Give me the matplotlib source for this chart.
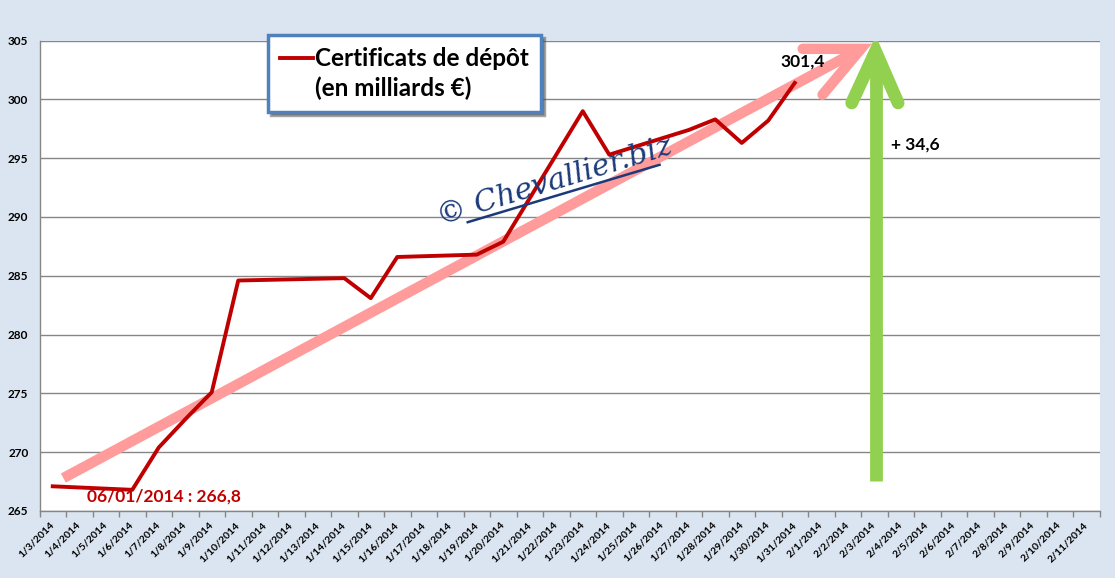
import matplotlib.pyplot as plt
from matplotlib.lines import Line2D
import numpy as np

# Catégories de l'axe (une par jour)
categories = [f"1/{d}/2014" for d in range(3, 32)] + [f"2/{d}/2014" for d in range(1, 12)]

# Série : certificats de dépôt (en milliards €)
dates = ["1/3/2014", "1/6/2014", "1/7/2014", "1/8/2014", "1/9/2014", "1/10/2014",
         "1/14/2014", "1/15/2014", "1/16/2014", "1/19/2014", "1/20/2014", "1/23/2014",
         "1/24/2014", "1/27/2014", "1/28/2014", "1/29/2014", "1/30/2014", "1/31/2014"]
valeurs = [267.1, 266.8, 270.4, 272.8, 275.1, 284.6,
           284.8, 283.1, 286.6, 286.8, 287.9, 299.0,
           295.3, 297.4, 298.3, 296.3, 298.2, 301.4]

y_ticks = [265, 270, 275, 280, 285, 290, 295, 300, 305]

plt.rcParams['font.family'] = ['Lato', 'DejaVu Sans']

fig = plt.figure(figsize=(11.15, 5.78), dpi=100, facecolor='#DBE5F1')
ax = fig.add_axes([39.5 / 1115, 67 / 578, 1060 / 1115, 470.4 / 578])
ax.set_facecolor('white')

x = [categories.index(d) for d in dates]

# Flèche de tendance (rose)
tx0, ty0 = 0.4, 267.8
tx1, ty1 = 30.5, 304.3
ax.plot([tx0, tx1], [ty0, ty1], color='#FF9B9B', lw=7.5, solid_capstyle='butt', zorder=2)
ax.plot([28.3, tx1, 29.05], [304.3, ty1, 300.4], color='#FF9B9B', lw=7.5,
        solid_capstyle='round', solid_joinstyle='miter', zorder=2)

# Série
ligne, = ax.plot(x, valeurs, color='#C00000', lw=2.8, zorder=4)

# Flèche verte
gx = 31.05
ax.plot([gx, gx], [267.55, 303.0], color='#92D050', lw=9.2, solid_capstyle='butt', zorder=3)
ax.plot([30.15, gx, 31.9], [299.7, 304.1, 299.7], color='#92D050', lw=9.2,
        solid_capstyle='round', solid_joinstyle='miter', zorder=3)

# Annotations
ax.text(x[1] - 1.7, 266.25, '06/01/2014 : 266,8', color='#C00000', fontsize=12.5,
        fontweight='bold', va='center', ha='left', zorder=5)
ax.text(x[-1] + 0.3, 303.2, '301,4', color='black', fontsize=12.5, fontweight='bold',
        va='center', ha='center', zorder=5)
ax.text(gx + 0.6, 296.2, '+ 34,6', color='black', fontsize=12.5, fontweight='bold',
        va='center', ha='left', zorder=5)

# Filigrane
ax.text(0.486, 0.70, '© Chevallier.biz', transform=ax.transAxes, rotation=17,
        fontsize=21.5, family='DejaVu Serif', style='italic', color='#1B3A7A',
        ha='center', va='center', zorder=6)
ax.plot([0.404, 0.585], [0.614, 0.736], transform=ax.transAxes, color='#1B3A7A', lw=1.8, zorder=6)

# Axes
ax.set_xlim(-0.5, len(categories) - 0.5)
ax.set_ylim(265, 305)
ax.set_yticks(y_ticks)
ax.set_yticklabels([str(v) for v in y_ticks], fontsize=8.5, fontweight='bold')
ax.tick_params(axis='y', length=0, pad=8)
ax.set_xticks(np.arange(len(categories)))
ax.set_xticklabels(categories, rotation=45, ha='right', va='center', rotation_mode='anchor',
                   fontsize=7.5, fontweight='bold')
ax.tick_params(axis='x', which='major', length=0, pad=9)
ax.set_xticks(np.arange(len(categories) + 1) - 0.5, minor=True)
ax.tick_params(axis='x', which='minor', length=4, color='#868686', width=1)
ax.grid(axis='y', color='#868686', lw=1, zorder=1)
ax.set_axisbelow(True)
for s in ['top', 'right']:
    ax.spines[s].set_visible(False)
for s in ['left', 'bottom']:
    ax.spines[s].set_color('#868686')
    ax.spines[s].set_linewidth(1)

vide = Line2D([], [], color='none')
leg = ax.legend([ligne, vide], ['Certificats de dépôt', '(en milliards €)'],
                loc='upper left', bbox_to_anchor=(268 / 1115, 543 / 578), bbox_transform=fig.transFigure,
                borderaxespad=0, prop={'weight': 'bold', 'size': 17.5}, frameon=True, fancybox=False,
                handlelength=1.35, handletextpad=0.1, borderpad=0.5, labelspacing=0.25, shadow=True)
leg.get_frame().set_edgecolor('#4F81BD')
leg.get_frame().set_linewidth(2.5)
leg.set_zorder(7)

fig.savefig('out.png', dpi=100, facecolor=fig.get_facecolor())
